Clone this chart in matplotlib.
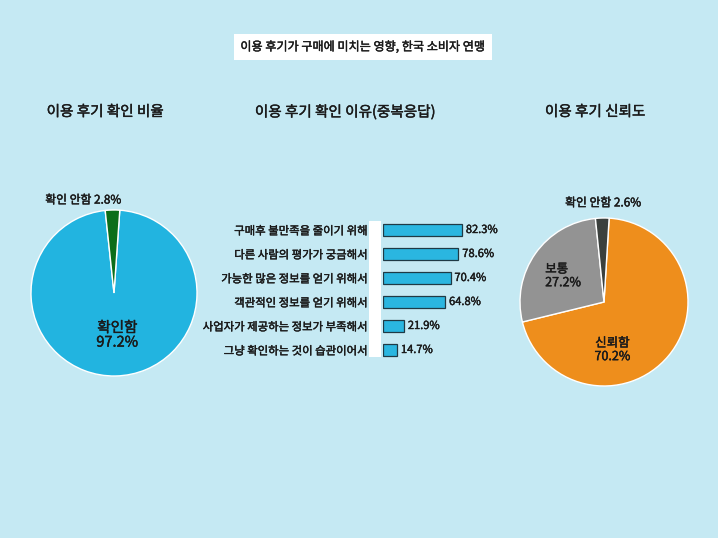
import matplotlib.pyplot as plt
import matplotlib.patheffects as pe

plt.rcParams['font.family'] = ['Noto Sans CJK KR', 'DejaVu Sans']

W, H = 718, 538
BG = '#c5e9f3'
TXT = '#1a1a1a'
# slightly heavier strokes, the original uses a medium weight
heavy = [pe.withStroke(linewidth=0.3, foreground=TXT)]

title = '이용 후기가 구매에 미치는 영향, 한국 소비자 연맹'

check_labels = ['확인함', '확인 안함']
check_values = [97.2, 2.8]

reason_labels = ['구매후 불만족을 줄이기 위해', '다른 사람의 평가가 궁금해서',
                 '가능한 많은 정보를 얻기 위해서', '객관적인 정보를 얻기 위해서',
                 '사업자가 제공하는 정보가 부족해서', '그냥 확인하는 것이 습관이어서']
reason_values = [82.3, 78.6, 70.4, 64.8, 21.9, 14.7]

trust_labels = ['신뢰함', '보통', '확인 안함']
trust_values = [70.2, 27.2, 2.6]


def box(x0, y0, x1, y1):
    # pixel box -> figure fraction [left, bottom, width, height]
    return [x0 / W, 1 - y1 / H, (x1 - x0) / W, (y1 - y0) / H]


fig = plt.figure(figsize=(7.18, 5.38), dpi=100, facecolor=BG)

fig.text(363 / W, 1 - 47 / H, title, ha='center', va='center', fontsize=8.7, color=TXT,
         path_effects=heavy,
         bbox=dict(facecolor='white', edgecolor='none', boxstyle='square,pad=0.55'))

for x, t in [(105, '이용 후기 확인 비율'), (345, '이용 후기 확인 이유(중복응답)'), (595, '이용 후기 신뢰도')]:
    fig.text(x / W, 1 - 112 / H, t, ha='center', va='center', fontsize=10.5, color=TXT,
             path_effects=heavy)

# left pie
ax1 = fig.add_axes(box(31, 210, 197, 376))
ax1.pie(check_values, colors=['#22b4e0', '#0c6e1a'], startangle=86, counterclock=False,
        wedgeprops=dict(edgecolor='white', linewidth=1))
ax1.set_xlim(-1, 1)
ax1.set_ylim(-1, 1)
ax1.set_aspect('equal')
ax1.text(0.04, -0.51, f'{check_labels[0]}\n{check_values[0]}%', ha='center', va='center',
         fontsize=10.5, linespacing=1.05, color=TXT, path_effects=heavy)
ax1.text(-0.37, 1.12, f'{check_labels[1]} {check_values[1]}%', ha='center', va='center',
         fontsize=8.5, color=TXT, path_effects=heavy)

# white band behind bar axis
band = fig.add_axes(box(369, 221, 381, 357))
band.set_facecolor('white')
band.set_xticks([])
band.set_yticks([])
for s in band.spines.values():
    s.set_visible(False)

# bar chart
ax2 = fig.add_axes(box(383, 218, 479, 362))
ax2.patch.set_alpha(0)
y = list(range(len(reason_values)))
ax2.barh(y, reason_values, height=0.46, color='#2ab6e0', edgecolor='#1f3a45', linewidth=0.9)
ax2.set_xlim(0, 100)
ax2.set_ylim(len(reason_values) - 0.5, -0.5)
ax2.set_yticks(y)
ax2.set_yticklabels(reason_labels, fontsize=8.2, color=TXT, path_effects=heavy)
ax2.tick_params(axis='y', length=0, pad=11)
ax2.set_xticks([])
for s in ax2.spines.values():
    s.set_visible(False)
for i, v in enumerate(reason_values):
    ax2.text(v + 4, i, f'{v}%', va='center', ha='left', fontsize=8, clip_on=False,
             color=TXT, path_effects=heavy)

# right pie
ax3 = fig.add_axes(box(520, 218, 688, 386))
ax3.pie(trust_values, colors=['#ee8e1c', '#939393', '#3b403d'], startangle=86.5, counterclock=False,
        wedgeprops=dict(edgecolor='white', linewidth=1))
ax3.set_xlim(-1, 1)
ax3.set_ylim(-1, 1)
ax3.set_aspect('equal')
ax3.text(0.1, -0.57, f'{trust_labels[0]}\n{trust_values[0]}%', ha='center', va='center',
         fontsize=9, linespacing=1.05, color=TXT, path_effects=heavy)
ax3.text(-0.70, 0.31, f'{trust_labels[1]}\n{trust_values[1]}%', ha='left', va='center',
         fontsize=9, linespacing=1.05, color=TXT, path_effects=heavy)
ax3.text(-0.01, 1.18, f'{trust_labels[2]} {trust_values[2]}%', ha='center', va='center',
         fontsize=8.5, color=TXT, path_effects=heavy)

fig.savefig('out.png', dpi=100, facecolor=BG)
